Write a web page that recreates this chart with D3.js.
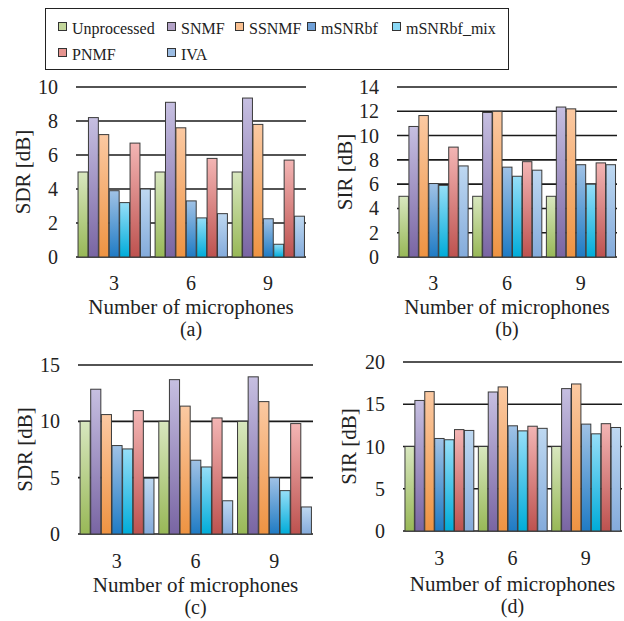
<!DOCTYPE html>
<html>
<head>
<meta charset="utf-8">
<script src="https://cdn.jsdelivr.net/npm/d3@7"></script>
<style>
  body { margin: 0; background: #fff; }
  svg { font-family: "Liberation Serif", "Times New Roman", serif; }
</style>
</head>
<body>
<svg id="chart" width="624" height="621"></svg>
<script>
// data
const series = ['Unprocessed', 'SNMF', 'SSNMF', 'mSNRbf', 'mSNRbf_mix', 'PNMF', 'IVA'];
const mics = ['3', '6', '9'];

// values per microphone count, in series order
const sdrA = [
  [5.0, 8.2, 7.2, 3.9, 3.2, 6.7, 4.0],
  [5.0, 9.1, 7.6, 3.3, 2.3, 5.8, 2.55],
  [5.0, 9.35, 7.8, 2.25, 0.75, 5.7, 2.4]
];
const sirB = [
  [5.0, 10.75, 11.65, 6.05, 5.9, 9.05, 7.5],
  [5.0, 11.9, 12.0, 7.4, 6.65, 7.85, 7.15],
  [5.0, 12.35, 12.2, 7.6, 6.0, 7.75, 7.6]
];
const sdrC = [
  [10.0, 12.85, 10.6, 7.85, 7.55, 10.95, 4.95],
  [10.0, 13.7, 11.35, 6.55, 5.95, 10.3, 2.95],
  [10.0, 13.95, 11.75, 5.0, 3.85, 9.8, 2.4]
];
const sirD = [
  [10.0, 15.45, 16.5, 10.95, 10.8, 12.0, 11.9],
  [10.0, 16.45, 17.05, 12.45, 11.85, 12.4, 12.15],
  [10.0, 16.85, 17.4, 12.65, 11.5, 12.7, 12.25]
];
const ticksA = [0, 2, 4, 6, 8, 10];
const ticksB = [0, 2, 4, 6, 8, 10, 12, 14];
const ticksC = [0, 5, 10, 15];
const ticksD = [0, 5, 10, 15, 20];

// colours: gradient top, gradient bottom, legend swatch
const colTop = ['#d8e7bf', '#c6bfe1', '#fbc9a2', '#a0c2e6', '#96def8', '#f3b5b4', '#bed8f1'];
const colBot = ['#98b857', '#7965a3', '#ee9342', '#1f7bc4', '#00acd9', '#bd524f', '#84abdb'];
const colKey = ['#c3d69b', '#b3a2c7', '#fac090', '#6fa0d8', '#8ad8f5', '#e6948f', '#9bbce3'];

const svg = d3.select('#chart');
const defs = svg.append('defs');

series.forEach((s, i) => {
  const g = defs.append('linearGradient')
    .attr('id', 'grad' + i)
    .attr('x1', 0).attr('y1', 0).attr('x2', 0).attr('y2', 1);
  g.append('stop').attr('offset', '0%').attr('stop-color', colTop[i]);
  g.append('stop').attr('offset', '100%').attr('stop-color', colBot[i]);
});

// legend
svg.append('rect')
  .attr('x', 45.5).attr('y', 8.5).attr('width', 463).attr('height', 61)
  .attr('fill', '#fff').attr('stroke', '#222').attr('stroke-width', 1);

const legendPos = [
  [58, 0], [167, 0], [235, 0], [307, 0], [392, 0],
  [58, 1], [167, 1]
];
series.forEach((s, i) => {
  const [lx, row] = legendPos[i];
  const ly = row === 0 ? 22 : 48;
  svg.append('rect')
    .attr('x', lx + 0.5).attr('y', ly + 0.5).attr('width', 8).attr('height', 8)
    .attr('fill', colKey[i]).attr('stroke', '#333').attr('stroke-width', 1);
  svg.append('text')
    .attr('x', lx + 14).attr('y', ly + 12)
    .style('font-size', '16px').attr('fill', '#222')
    .text(s);
});

function drawPanel(opt) {
  const { data, ticks, x0, x1, yZero, yTop, title, tag, catY, titleY } = opt;
  const maxV = ticks[ticks.length - 1];

  const y = d3.scaleLinear().domain([0, maxV]).range([yZero, yTop]);
  const x = d3.scaleBand().domain(mics).range([x0, x1]).paddingInner(0.055).paddingOuter(0.02);
  const xs = d3.scaleBand().domain(series).range([0, x.bandwidth()]);

  const g = svg.append('g');

  // gridlines
  g.selectAll('line.grid')
    .data(ticks)
    .enter().append('line')
    .attr('x1', x0).attr('x2', x1)
    .attr('y1', d => y(d)).attr('y2', d => y(d))
    .attr('stroke', '#1a1a1a').attr('stroke-width', 1.6);

  // tick labels
  g.selectAll('text.tick')
    .data(ticks)
    .enter().append('text')
    .attr('x', x0 - 18).attr('y', d => y(d))
    .attr('text-anchor', 'end').attr('dominant-baseline', 'central')
    .style('font-size', '20px').attr('fill', '#222')
    .text(d => d);

  // bars
  mics.forEach((m, mi) => {
    g.selectAll(null)
      .data(data[mi])
      .enter().append('rect')
      .attr('x', (d, i) => x(m) + xs(series[i]) + 0.5)
      .attr('y', d => y(d))
      .attr('width', xs.bandwidth() - 0.5)
      .attr('height', d => yZero - y(d))
      .attr('fill', (d, i) => `url(#grad${i})`)
      .attr('stroke', '#3a3a3a').attr('stroke-width', 1);
  });

  // category labels
  g.selectAll('text.cat')
    .data(mics)
    .enter().append('text')
    .attr('x', d => x(d) + x.bandwidth() / 2).attr('y', catY)
    .attr('text-anchor', 'middle')
    .style('font-size', '20px').attr('fill', '#222')
    .text(d => d);

  const cx = (x0 + x1) / 2;
  g.append('text')
    .attr('x', cx).attr('y', titleY)
    .attr('text-anchor', 'middle')
    .style('font-size', '21px').attr('fill', '#222')
    .text('Number of microphones');
  g.append('text')
    .attr('x', cx).attr('y', titleY + 22)
    .attr('text-anchor', 'middle')
    .style('font-size', '20px').attr('fill', '#222')
    .text(tag);

  g.append('text')
    .attr('transform', `translate(${opt.labelX},${(yZero + yTop) / 2}) rotate(-90)`)
    .attr('text-anchor', 'middle').attr('dominant-baseline', 'central')
    .style('font-size', '21px').attr('fill', '#222')
    .text(title);
}

drawPanel({ data: sdrA, ticks: ticksA, x0: 76, x1: 306, yZero: 257, yTop: 87,
  title: 'SDR [dB]', tag: '(a)', catY: 290, titleY: 314, labelX: 23 });
drawPanel({ data: sirB, ticks: ticksB, x0: 397, x1: 617, yZero: 257, yTop: 87,
  title: 'SIR [dB]', tag: '(b)', catY: 290, titleY: 314, labelX: 345 });
drawPanel({ data: sdrC, ticks: ticksC, x0: 78, x1: 313, yZero: 534, yTop: 365,
  title: 'SDR [dB]', tag: '(c)', catY: 568, titleY: 592, labelX: 25 });
drawPanel({ data: sirD, ticks: ticksD, x0: 403, x1: 622, yZero: 531, yTop: 362,
  title: 'SIR [dB]', tag: '(d)', catY: 565, titleY: 591, labelX: 349 });
</script>
</body>
</html>
